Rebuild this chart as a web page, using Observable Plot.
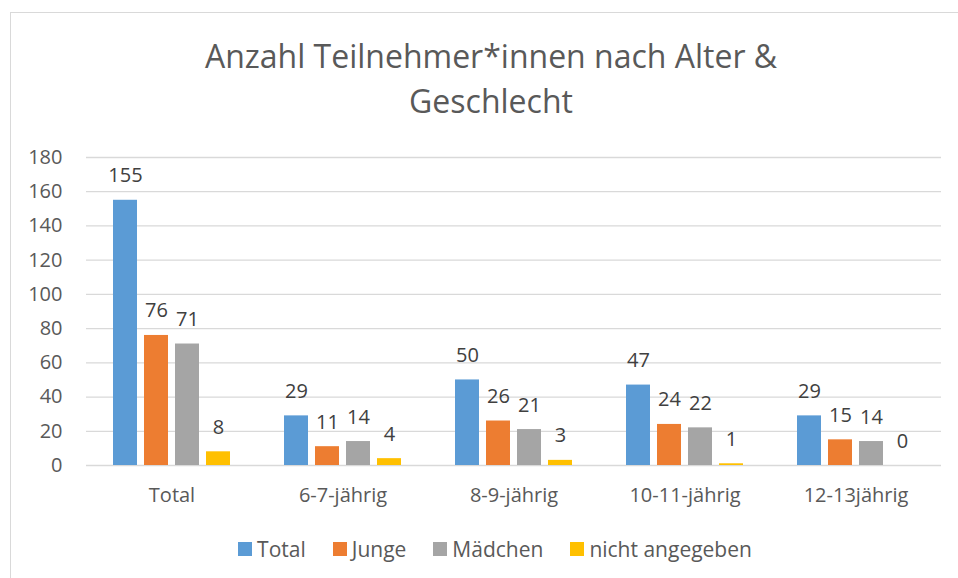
<!DOCTYPE html>
<html>
<head>
<meta charset="utf-8">
<script src="https://cdn.jsdelivr.net/npm/d3@7"></script>
<script src="https://cdn.jsdelivr.net/npm/@observablehq/plot@0.6"></script>
<style>
  html, body { margin: 0; padding: 0; background: #fff; }
  body { width: 958px; height: 578px; position: relative; overflow: hidden; font-family: "Open Sans", sans-serif; }
  #frame { position: absolute; left: 10px; top: 12px; width: 980px; height: 600px; border: 1px solid #d9d9d9; box-sizing: border-box; }
  #title { position: absolute; left: 0; width: 982px; top: 33px; text-align: center; font-size: 32px; line-height: 45px; color: #595959; }
  .layer { position: absolute; left: 0; top: 0; }
  #legend { position: absolute; left: 0; width: 990px; top: 535px; display: flex; justify-content: center; gap: 27px; font-size: 21px; color: #595959; }
  #legend .item { display: flex; align-items: center; }
  #legend .sw { width: 14px; height: 14px; margin-right: 5px; }
</style>
</head>
<body>
<div id="frame"></div>
<div id="title">Anzahl Teilnehmer*innen nach Alter &amp;<br>Geschlecht</div>
<div id="grid" class="layer"></div>
<div id="bars" class="layer"></div>
<div id="legend"></div>
<script>
const categories = ["Total", "6-7-jährig", "8-9-jährig", "10-11-jährig", "12-13jährig"];
const series = ["Total", "Junge", "Mädchen", "nicht angegeben"];
const colors = ["#5B9BD5", "#ED7D31", "#A5A5A5", "#FFC000"];
const totalValues = [155, 29, 50, 47, 29];
const jungeValues = [76, 11, 26, 24, 15];
const maedchenValues = [71, 14, 21, 22, 14];
const nichtValues = [8, 4, 3, 1, 0];
const yTicks = [0, 20, 40, 60, 80, 100, 120, 140, 160, 180];

const seriesValues = [totalValues, jungeValues, maedchenValues, nichtValues];
const data = categories.flatMap((c, i) => series.map((s, j) => ({category: c, series: s, value: seriesValues[j][i]})));

const W = 958, H = 520;
const margins = {marginLeft: 86, marginRight: 17, marginTop: 157, marginBottom: 55};

const gridPlot = Plot.plot({
  width: W, height: H, ...margins,
  style: {fontFamily: "Open Sans", fontSize: "20px", color: "#595959", background: "transparent"},
  x: {axis: null, domain: [0, 1]},
  y: {domain: [0, 180], ticks: yTicks, tickSize: 0, tickPadding: 24, label: null},
  marks: [
    Plot.ruleY(yTicks, {stroke: "#d9d9d9", strokeWidth: 1.3})
  ]
});
document.getElementById("grid").appendChild(gridPlot);

const barPlot = Plot.plot({
  width: W, height: H, ...margins,
  style: {fontFamily: "Open Sans", fontSize: "20px", color: "#595959", background: "transparent", overflow: "visible"},
  facet: {data, x: "category"},
  fx: {domain: categories, paddingInner: 0.316, paddingOuter: 0.158, axis: "bottom", tickSize: 0, tickPadding: 22, label: null},
  x: {domain: series, paddingInner: 0.226, paddingOuter: 0, axis: null},
  y: {domain: [0, 180], axis: null},
  color: {domain: series, range: colors},
  marks: [
    Plot.barY(data, {x: "series", y: "value", fill: "series"}),
    Plot.text(data, {x: "series", y: "value", text: d => String(d.value), dy: -18, lineAnchor: "bottom", fill: "#404040", fontSize: 20})
  ]
});
document.getElementById("bars").appendChild(barPlot);

const legend = document.getElementById("legend");
series.forEach((s, i) => {
  const item = document.createElement("div");
  item.className = "item";
  const sw = document.createElement("div");
  sw.className = "sw";
  sw.style.background = colors[i];
  const label = document.createElement("span");
  label.textContent = s;
  item.appendChild(sw);
  item.appendChild(label);
  legend.appendChild(item);
});
</script>
</body>
</html>
